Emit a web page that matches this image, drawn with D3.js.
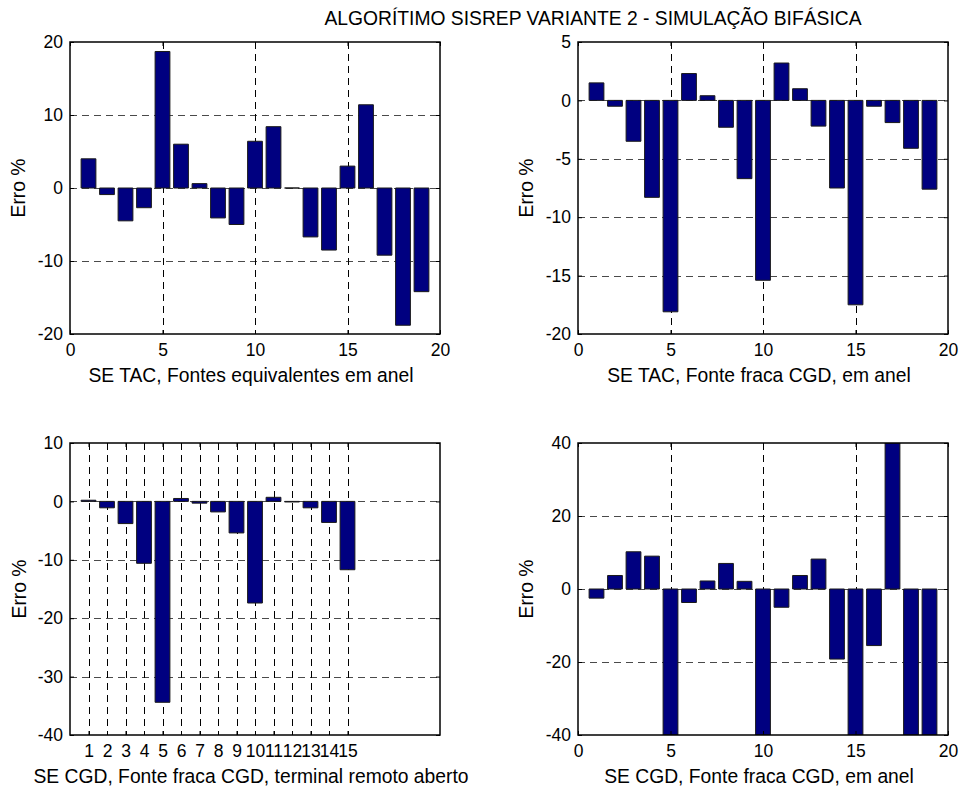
<!DOCTYPE html>
<html>
<head>
<meta charset="utf-8">
<script src="https://cdn.jsdelivr.net/npm/d3@7"></script>
<style>
  body { margin: 0; background: #fff; }
  svg { display: block; }
  text { font-family: "Liberation Sans", Arial, sans-serif; fill: #000; }
</style>
</head>
<body>
<svg id="fig" width="961" height="787"></svg>
<script>
// Case numbers (bar positions)
const casos19 = [1, 2, 3, 4, 5, 6, 7, 8, 9, 10, 11, 12, 13, 14, 15, 16, 17, 18, 19];
const casos15 = [1, 2, 3, 4, 5, 6, 7, 8, 9, 10, 11, 12, 13, 14, 15];

// Error (%) per case
const erroTacEquiv = [4.0, -0.9, -4.5, -2.7, 18.7, 6.0, 0.6, -4.1, -5.0, 6.4, 8.4, 0.0, -6.7, -8.5, 3.0, 11.4, -9.2, -18.8, -14.2];
const erroTacFraca = [1.5, -0.5, -3.5, -8.3, -18.1, 2.3, 0.4, -2.3, -6.7, -15.4, 3.2, 1.0, -2.2, -7.5, -17.5, -0.5, -1.9, -4.1, -7.6];
const erroCgdAberto = [0.2, -1.1, -3.8, -10.6, -34.4, 0.5, -0.3, -1.8, -5.4, -17.4, 0.7, -0.1, -1.1, -3.6, -11.7];
const erroCgdAnel = [-2.5, 3.7, 10.2, 9.0, -40, -3.7, 2.2, 7.0, 2.1, -40, -5.0, 3.7, 8.2, -19.2, -40, -15.5, 40, -40, -40];

// Tick values
const xTicks20 = [0, 5, 10, 15, 20];
const yTicksA = [-20, -10, 0, 10, 20];
const yTicksB = [-20, -15, -10, -5, 0, 5];
const yTicksC = [-40, -30, -20, -10, 0, 10];
const yTicksD = [-40, -20, 0, 20, 40];

// Text
const titulo = "ALGORÍTIMO SISREP VARIANTE 2 - SIMULAÇÃO BIFÁSICA";
const rotuloY = "Erro %";
const rotulosX = [
  "SE TAC, Fontes equivalentes em anel",
  "SE TAC, Fonte fraca CGD, em anel",
  "SE CGD, Fonte fraca CGD, terminal remoto aberto",
  "SE CGD, Fonte fraca CGD, em anel"
];

const svg = d3.select("#fig");
const BAR_FILL = "#000080";
const TICK_FONT = 17.5;
const LABEL_FONT = 19.3;

const panels = [
  { id: "p1", box: [70, 42, 440, 334], xs: casos19, ys: erroTacEquiv, yDomain: [-20, 20], xTicks: xTicks20, xGrid: [5, 10, 15], yTicks: yTicksA, label: rotulosX[0], ylx: 25 },
  { id: "p2", box: [578, 42, 948, 334], xs: casos19, ys: erroTacFraca, yDomain: [-20, 5], xTicks: xTicks20, xGrid: [5, 10, 15], yTicks: yTicksB, label: rotulosX[1], ylx: 533 },
  { id: "p3", box: [70, 443, 440, 735], xs: casos15, ys: erroCgdAberto, yDomain: [-40, 10], xTicks: casos15, xGrid: casos15, yTicks: yTicksC, label: rotulosX[2], ylx: 26 },
  { id: "p4", box: [578, 443, 948, 735], xs: casos19, ys: erroCgdAnel, yDomain: [-40, 40], xTicks: xTicks20, xGrid: [5, 10, 15], yTicks: yTicksD, label: rotulosX[3], ylx: 533 }
];

const snap = v => Math.round(v) + 0.5;
const plain = d => String(d); // hyphen-minus, as on the printed figure

function drawPanel(p) {
  const [l, t, r, b] = p.box;
  const x = d3.scaleLinear().domain([0, 20]).range([l, r]);
  const y = d3.scaleLinear().domain(p.yDomain).range([b, t]);
  const g = svg.append("g");

  svg.append("clipPath").attr("id", "clip-" + p.id)
    .append("rect").attr("x", l).attr("y", t).attr("width", r - l).attr("height", b - t);

  // dashed grid
  const yGrid = p.yTicks.filter(v => v > p.yDomain[0] && v < p.yDomain[1]);
  g.append("g").selectAll("line").data(yGrid).join("line")
    .attr("x1", l).attr("x2", r)
    .attr("y1", d => snap(y(d))).attr("y2", d => snap(y(d)))
    .attr("stroke", "#4a4a4a").attr("stroke-width", 1).attr("stroke-dasharray", "7,5");
  g.append("g").selectAll("line").data(p.xGrid).join("line")
    .attr("y1", t).attr("y2", b)
    .attr("x1", d => snap(x(d))).attr("x2", d => snap(x(d)))
    .attr("stroke", "#000").attr("stroke-width", 1).attr("stroke-dasharray", "7,5");

  // bars (width 0.8 of unit spacing), drawn as closed paths so zero-height bars still show
  g.append("g").attr("clip-path", "url(#clip-" + p.id + ")")
    .selectAll("path").data(p.xs.map((c, i) => ({ c, v: p.ys[i] }))).join("path")
    .attr("d", d => {
      const x0 = x(d.c - 0.4), x1 = x(d.c + 0.4), y0 = y(0), y1 = y(d.v);
      return `M${x0},${y0}H${x1}V${y1}H${x0}Z`;
    })
    .attr("fill", BAR_FILL)
    .attr("stroke", "#1a1a1a").attr("stroke-width", 1);

  // axes with inward ticks
  const styleAxis = sel => {
    sel.select(".domain").remove();
    sel.selectAll("text").style("font-size", TICK_FONT + "px").attr("fill", "#000");
    sel.selectAll(".tick line").attr("stroke", "#000");
  };
  g.append("g").attr("transform", `translate(0,${b})`)
    .call(d3.axisBottom(x).tickValues(p.xTicks).tickFormat(plain).tickSizeInner(-4).tickSizeOuter(0).tickPadding(10))
    .call(styleAxis);
  g.append("g").attr("transform", `translate(0,${t})`)
    .call(d3.axisTop(x).tickValues(p.xTicks).tickFormat("").tickSizeInner(-4).tickSizeOuter(0))
    .call(styleAxis);
  g.append("g").attr("transform", `translate(${l},0)`)
    .call(d3.axisLeft(y).tickValues(p.yTicks).tickFormat(plain).tickSizeInner(-4).tickSizeOuter(0).tickPadding(7))
    .call(styleAxis);
  g.append("g").attr("transform", `translate(${r},0)`)
    .call(d3.axisRight(y).tickValues(p.yTicks).tickFormat("").tickSizeInner(-4).tickSizeOuter(0))
    .call(styleAxis);

  // axes box
  g.append("rect").attr("x", l).attr("y", t).attr("width", r - l).attr("height", b - t)
    .attr("fill", "none").attr("stroke", "#000").attr("stroke-width", 1.5);

  // labels
  g.append("text").attr("x", (l + r) / 2 - 4).attr("y", b + 48)
    .attr("text-anchor", "middle").style("font-size", LABEL_FONT + "px").text(p.label);
  g.append("text").attr("transform", `translate(${p.ylx},${(t + b) / 2}) rotate(-90)`)
    .attr("text-anchor", "middle").style("font-size", LABEL_FONT + "px").text(rotuloY);
}

panels.forEach(drawPanel);

svg.append("text").attr("x", 593).attr("y", 25).attr("text-anchor", "middle")
  .style("font-size", "19.3px").text(titulo);
</script>
</body>
</html>
